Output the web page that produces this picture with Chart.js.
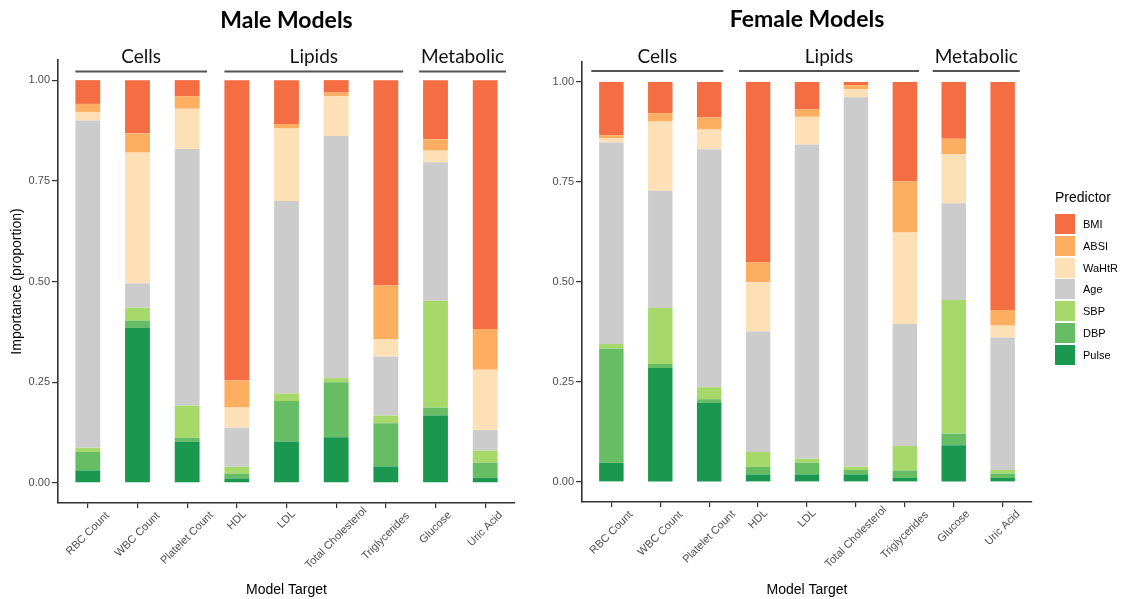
<!DOCTYPE html>
<html>
<head>
<meta charset="utf-8">
<script src="https://cdn.jsdelivr.net/npm/chart.js@4.4.1/dist/chart.umd.min.js"></script>
<style>
  html, body { margin: 0; padding: 0; background: #fff; overflow: hidden; }
  #wrap { position: relative; width: 1124px; height: 599px; }
  #cMale { position: absolute; left: 0; top: 0; }
  #cFemale { position: absolute; left: 530px; top: 0; }
  #legend { position: absolute; left: 1055px; top: 188px; font-family: "Liberation Sans", Arial, sans-serif; color: #000; }
  #legend .ttl { font-size: 14px; line-height: 18px; height: 18px; margin-bottom: 8px; }
  #legend .item { display: flex; align-items: center; height: 20px; margin-bottom: 1.8px; }
  #legend .key { width: 20px; height: 20px; margin-right: 8px; }
  #legend .lab { font-size: 11px; }
</style>
</head>
<body>
<div id="wrap">
  <canvas id="cMale" width="530" height="599"></canvas>
  <canvas id="cFemale" width="594" height="599"></canvas>
  <div id="legend"></div>
</div>
<script>
// ---------------- DATA ----------------
const categories = ['RBC Count', 'WBC Count', 'Platelet Count', 'HDL', 'LDL', 'Total Cholesterol', 'Triglycerides', 'Glucose', 'Uric Acid'];
const predictors = ['BMI', 'ABSI', 'WaHtR', 'Age', 'SBP', 'DBP', 'Pulse'];
const yTickValues = [0, 0.25, 0.5, 0.75, 1];
const groupNames = ['Cells', 'Lipids', 'Metabolic'];

// Male models: importance proportion per target
const malePulse = [0.031, 0.385, 0.102, 0.011, 0.103, 0.113, 0.041, 0.167, 0.012];
const maleDBP   = [0.046, 0.018, 0.010, 0.012, 0.100, 0.137, 0.107, 0.020, 0.038];
const maleSBP   = [0.010, 0.032, 0.080, 0.017, 0.019, 0.010, 0.019, 0.265, 0.030];
const maleAge   = [0.813, 0.060, 0.637, 0.097, 0.478, 0.601, 0.147, 0.344, 0.051];
const maleWaHtR = [0.021, 0.325, 0.100, 0.050, 0.180, 0.099, 0.042, 0.029, 0.150];
const maleABSI  = [0.020, 0.048, 0.031, 0.067, 0.011, 0.009, 0.134, 0.028, 0.101];
const maleBMI   = [0.059, 0.132, 0.040, 0.746, 0.109, 0.031, 0.510, 0.147, 0.618];

// Female models
const femalePulse = [0.048, 0.285, 0.198, 0.019, 0.019, 0.019, 0.010, 0.092, 0.010];
const femaleDBP   = [0.286, 0.010, 0.009, 0.019, 0.029, 0.011, 0.019, 0.029, 0.011];
const femaleSBP   = [0.011, 0.140, 0.030, 0.037, 0.010, 0.008, 0.061, 0.334, 0.009];
const femaleAge   = [0.504, 0.293, 0.595, 0.301, 0.786, 0.924, 0.305, 0.242, 0.331];
const femaleWaHtR = [0.010, 0.173, 0.049, 0.123, 0.069, 0.020, 0.229, 0.122, 0.030];
const femaleABSI  = [0.008, 0.021, 0.031, 0.050, 0.019, 0.010, 0.128, 0.039, 0.039];
const femaleBMI   = [0.133, 0.078, 0.088, 0.451, 0.068, 0.008, 0.248, 0.142, 0.570];

// ---------------- STYLE / LAYOUT ----------------
const colors = { BMI: '#F46D43', ABSI: '#FDAE61', WaHtR: '#FDE0B6', Age: '#CCCCCC', SBP: '#A6D96A', DBP: '#66BD63', Pulse: '#1A9850' };
const maleGroupSpans = [[-0.25, 2.4], [2.75, 6.35], [6.67, 8.42]];
const femaleGroupSpans = [[-0.41, 2.29], [2.61, 6.29], [6.57, 8.35]];

const FONT = '"Liberation Sans", Arial, sans-serif';
const AXIS_COL = '#333333';
const TICK_COL = '#4D4D4D';

function buildDatasets(series) {
  // bottom-to-top stacking order
  const order = ['Pulse', 'DBP', 'SBP', 'Age', 'WaHtR', 'ABSI', 'BMI'];
  return order.map(p => ({
    label: p,
    data: series[p].map((v, i) => ({ x: i, y: v })),
    backgroundColor: colors[p],
    borderWidth: 0,
    barPercentage: 0.5,
    categoryPercentage: 1.0
  }));
}

const annot = {
  id: 'annot',
  afterDraw(chart, args, opts) {
    const { ctx, chartArea } = chart;
    const x = chart.scales.x;
    ctx.save();
    // plot title
    ctx.fillStyle = '#000';
    ctx.font = 'bold 23px Lato, "Open Sans", sans-serif';
    ctx.textAlign = 'center';
    ctx.textBaseline = 'alphabetic';
    ctx.fillText(opts.title, (chartArea.left + chartArea.right) / 2, opts.titleY);
    // group labels with lines
    ctx.font = '19px Lato, "Open Sans", sans-serif';
    groupNames.forEach((g, i) => {
      const x0 = x.getPixelForValue(opts.spans[i][0]);
      const x1 = x.getPixelForValue(opts.spans[i][1]);
      ctx.fillStyle = '#111';
      ctx.fillText(g, (x0 + x1) / 2, opts.groupY);
      ctx.strokeStyle = '#555';
      ctx.lineWidth = 1.8;
      ctx.beginPath();
      ctx.moveTo(x0, opts.lineY);
      ctx.lineTo(x1, opts.lineY);
      ctx.stroke();
    });
    // rotated category labels, centred on each tick
    ctx.font = '11px ' + FONT;
    ctx.fillStyle = TICK_COL;
    ctx.textBaseline = 'middle';
    ctx.textAlign = 'center';
    x.ticks.forEach(t => {
      const label = categories[t.value];
      if (label === undefined) return;
      const px = x.getPixelForValue(t.value);
      const w = ctx.measureText(label).width;
      const yc = chartArea.bottom + Math.min(18 + 0.4 * (w - 24), 35);
      ctx.save();
      ctx.translate(px, yc);
      ctx.rotate(-Math.PI / 4);
      ctx.fillText(label, 0, 0);
      ctx.restore();
    });
    ctx.restore();
  }
};

function makeChart(canvasId, series, cfg) {
  return new Chart(document.getElementById(canvasId), {
    type: 'bar',
    data: { datasets: buildDatasets(series) },
    plugins: [annot],
    options: {
      responsive: false,
      animation: false,
      devicePixelRatio: 1,
      layout: { padding: cfg.padding },
      plugins: {
        legend: { display: false },
        tooltip: { enabled: false },
        annot: { title: cfg.title, titleY: cfg.titleY, groupY: cfg.groupY, lineY: cfg.lineY, spans: cfg.spans }
      },
      scales: {
        x: {
          type: 'linear',
          stacked: true,
          offset: false,
          min: -0.6,
          max: 8.6,
          afterBuildTicks: axis => { axis.ticks = categories.map((c, i) => ({ value: i })); },
          afterFit: s => { s.height = cfg.xHeight; },
          ticks: { display: false },
          grid: { drawOnChartArea: false, drawTicks: true, tickLength: 5, color: AXIS_COL, lineWidth: 1.2, offset: false },
          border: { display: true, color: AXIS_COL, width: 1.6 },
          title: {
            display: true, text: 'Model Target', color: '#000',
            font: { family: FONT, size: 14 }, padding: { top: 0, bottom: 0 }
          }
        },
        y: {
          stacked: true,
          min: -0.05,
          max: 1.05,
          afterBuildTicks: axis => { axis.ticks = yTickValues.map(v => ({ value: v })); },
          afterFit: s => { s.width = cfg.yWidth; },
          ticks: {
            color: TICK_COL, font: { family: FONT, size: 11 }, padding: 2,
            callback: v => Number(v).toFixed(2)
          },
          grid: { drawOnChartArea: false, drawTicks: true, tickLength: 6, color: AXIS_COL, lineWidth: 1.2 },
          border: { display: true, color: AXIS_COL, width: 1.6 },
          title: {
            display: cfg.yTitle !== '', text: cfg.yTitle, color: '#000',
            font: { family: FONT, size: 14 }, padding: { top: 9, bottom: 0 }
          }
        }
      }
    }
  });
}

makeChart('cMale',
  { Pulse: malePulse, DBP: maleDBP, SBP: maleSBP, Age: maleAge, WaHtR: maleWaHtR, ABSI: maleABSI, BMI: maleBMI },
  { title: 'Male Models', titleY: 28, groupY: 63, lineY: 71.5, spans: maleGroupSpans,
    padding: { top: 60, right: 15, bottom: 0, left: 0 }, xHeight: 96, yWidth: 58, yTitle: 'Importance (proportion)' });

makeChart('cFemale',
  { Pulse: femalePulse, DBP: femaleDBP, SBP: femaleSBP, Age: femaleAge, WaHtR: femaleWaHtR, ABSI: femaleABSI, BMI: femaleBMI },
  { title: 'Female Models', titleY: 27, groupY: 63, lineY: 71, spans: femaleGroupSpans,
    padding: { top: 62, right: 92, bottom: 0, left: 0 }, xHeight: 97, yWidth: 52, yTitle: '' });

// ---------------- LEGEND (HTML) ----------------
const leg = document.getElementById('legend');
const ttl = document.createElement('div');
ttl.className = 'ttl';
ttl.textContent = 'Predictor';
leg.appendChild(ttl);
predictors.forEach(p => {
  const item = document.createElement('div');
  item.className = 'item';
  const key = document.createElement('div');
  key.className = 'key';
  key.style.background = colors[p];
  const lab = document.createElement('div');
  lab.className = 'lab';
  lab.textContent = p;
  item.appendChild(key);
  item.appendChild(lab);
  leg.appendChild(item);
});
</script>
</body>
</html>
